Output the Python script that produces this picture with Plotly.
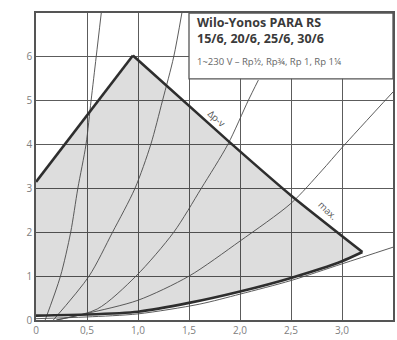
import plotly.graph_objects as go

# ---- data ----
x_ticks = [0, 0.5, 1.0, 1.5, 2.0, 2.5, 3.0]
x_ticktext = ["0", "0,5", "1,0", "1,5", "2,0", "2,5", "3,0"]
y_ticks = [0, 1, 2, 3, 4, 5, 6]
y_ticktext = ["0", "1", "2", "3", "4", "5", "6"]

# left boundary (rising line) Q, H
left_q = [0.0, 0.95]
left_h = [3.15, 6.03]
# max / Δp-v boundary
max_q = [0.95, 1.9, 2.5, 3.2]
max_h = [6.03, 4.05, 2.84, 1.55]
# lower boundary (min)
low_q = [0.0, 0.5, 1.0, 1.5, 2.0, 2.5, 3.0, 3.2]
low_h = [0.1, 0.125, 0.19, 0.39, 0.65, 0.96, 1.34, 1.55]

# thin system curves
sys1_q = [0.09, 0.24, 0.34, 0.41, 0.49, 0.54, 0.59, 0.64]
sys1_h = [0.0, 1.0, 2.0, 3.0, 4.0, 5.0, 6.0, 7.0]
sys2_q = [0.17, 0.52, 0.75, 0.97, 1.125, 1.24, 1.35, 1.43]
sys2_h = [0.0, 1.0, 2.0, 3.0, 4.0, 5.0, 6.0, 7.0]
sys3_q = [0.2, 0.6, 0.98, 1.35, 1.62, 1.88, 2.08, 2.18]
sys3_h = [0.0, 0.25, 1.0, 2.0, 3.0, 4.0, 5.0, 5.47]
sys4_q = [0.2, 0.5, 1.0, 1.5, 2.0, 2.5, 2.8, 3.0, 3.5]
sys4_h = [0.0, 0.15, 0.45, 1.0, 1.8, 2.66, 3.4, 3.93, 5.2]
sys5_q = [0.0, 0.5, 1.0, 1.6, 2.0, 2.5, 3.0, 3.5]
sys5_h = [0.03, 0.07, 0.14, 0.36, 0.59, 0.9, 1.28, 1.66]

THIN = "#4a4a4a"
THICK = "#2e2e2e"
FONT = "Open Sans"

fig = go.Figure()

# grey operating field
poly_q = left_q + max_q[1:] + low_q[::-1]
poly_h = left_h + max_h[1:] + low_h[::-1]
fig.add_trace(go.Scatter(x=poly_q, y=poly_h, fill="toself",
                         fillcolor="rgba(0,0,0,0.135)", mode="lines",
                         line=dict(width=0), hoverinfo="skip"))

for q, h in [(sys1_q, sys1_h), (sys2_q, sys2_h), (sys3_q, sys3_h),
             (sys4_q, sys4_h), (sys5_q, sys5_h)]:
    fig.add_trace(go.Scatter(x=q, y=h, mode="lines",
                             line=dict(color=THIN, width=0.9, shape="spline", smoothing=0.8)))

fig.add_trace(go.Scatter(x=left_q, y=left_h, mode="lines",
                         line=dict(color=THICK, width=2.6)))
fig.add_trace(go.Scatter(x=max_q, y=max_h, mode="lines",
                         line=dict(color=THICK, width=2.6, shape="spline", smoothing=0.6)))
fig.add_trace(go.Scatter(x=low_q, y=low_h, mode="lines",
                         line=dict(color=THICK, width=2.6, shape="spline", smoothing=0.6)))

# legend / title box
fig.add_shape(type="rect", x0=1.5, x1=3.5, y0=5.5, y1=7.0, xref="x", yref="y",
              fillcolor="white", line=dict(color="#555", width=1.3), layer="above")

fig.add_annotation(x=1.56, y=6.79, xref="x", yref="y", text="<b>Wilo-Yonos PARA RS</b>",
                   showarrow=False, xanchor="left", font=dict(family=FONT, size=12.5, color="#3a3a3a"))
fig.add_annotation(x=1.56, y=6.41, xref="x", yref="y", text="<b>15/6, 20/6, 25/6, 30/6</b>",
                   showarrow=False, xanchor="left", font=dict(family=FONT, size=12.5, color="#3a3a3a"))
fig.add_annotation(x=1.56, y=5.9, xref="x", yref="y",
                   text="1~230 V – Rp½, Rp¾, Rp 1, Rp 1¼",
                   showarrow=False, xanchor="left", font=dict(family=FONT, size=9.5, color="#666"))

fig.add_annotation(x=1.77, y=4.6, xref="x", yref="y", text="Δp-v", textangle=42,
                   showarrow=False, font=dict(family=FONT, size=9.5, color="#555"))
fig.add_annotation(x=2.86, y=2.5, xref="x", yref="y", text="max.", textangle=44,
                   showarrow=False, font=dict(family=FONT, size=9.5, color="#555"))

fig.add_annotation(x=-0.14, y=6.9, xref="x", yref="y", text="<b><i>H</i>/m</b>",
                   showarrow=False, xanchor="center", font=dict(family=FONT, size=9.5, color="#3a3a3a"))
fig.add_annotation(x=3.52, y=-0.3, xref="x", yref="y", text="<b>Q/m³/h</b>",
                   showarrow=False, xanchor="right", font=dict(family=FONT, size=10, color="#3a3a3a"))

axis_common = dict(showgrid=True, gridcolor="#5c5c5c", gridwidth=1.4, zeroline=False,
                   showline=True, linecolor="#555", linewidth=1.5, mirror=True,
                   tickfont=dict(family=FONT, size=10, color="#808080"), ticks="")

fig.update_xaxes(range=[0, 3.5], tickvals=x_ticks, ticktext=x_ticktext, **axis_common)
fig.update_yaxes(range=[0, 7], tickvals=y_ticks, ticktext=y_ticktext, **axis_common)

fig.update_layout(width=397, height=340, showlegend=False,
                  margin=dict(l=36, r=2, t=13, b=20),
                  plot_bgcolor="white", paper_bgcolor="white")

fig.write_html("out.html", config={"displayModeBar": False},
               post_script="document.body.style.margin='0px';")
